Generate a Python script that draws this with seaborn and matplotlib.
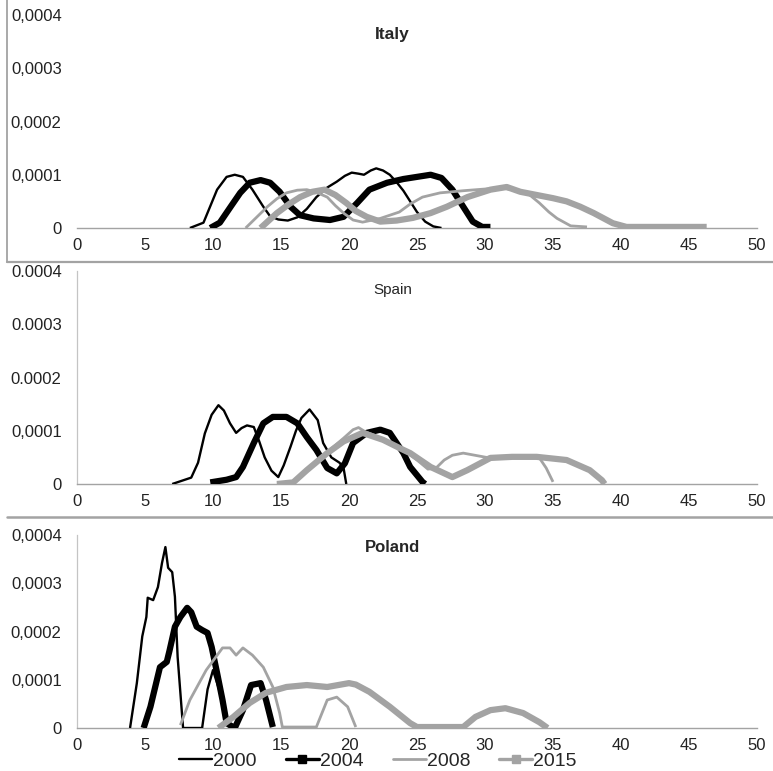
import numpy as np
import pandas as pd
import matplotlib
matplotlib.use("Agg")
import matplotlib.pyplot as plt
from matplotlib.lines import Line2D
import seaborn as sns

# y values are read in units of 0.0001
Y_UNIT = 1e-4

years = ["2000", "2004", "2008", "2015"]

# Italy
italy_2000_x = [8.3, 9.3, 10.3, 11.0, 11.6, 12.2, 12.9, 13.7, 14.2, 14.8, 15.5, 16.2, 16.9, 17.6, 18.4, 19.1,
                19.7, 20.2, 20.7, 21.1, 21.6, 22.0, 22.5, 23.0, 23.5, 24.0, 24.5, 25.0, 25.6, 26.2, 26.8]
italy_2000_y = [0, 0.1, 0.72, 0.96, 1.0, 0.96, 0.72, 0.4, 0.22, 0.16, 0.14, 0.2, 0.36, 0.58, 0.76, 0.87,
                0.98, 1.04, 1.02, 1.0, 1.08, 1.12, 1.08, 1.0, 0.86, 0.7, 0.5, 0.3, 0.12, 0.03, 0]
italy_2004_x = [9.8, 10.5, 11.3, 12.0, 12.7, 13.5, 14.2, 14.9, 15.7, 16.4, 17.4, 18.6, 19.6, 20.6, 21.5, 22.8,
                24.0, 25.0, 26.0, 26.8, 27.6, 28.4, 29.1, 29.8, 30.4]
italy_2004_y = [0, 0.1, 0.4, 0.66, 0.85, 0.9, 0.85, 0.68, 0.4, 0.24, 0.18, 0.15, 0.21, 0.47, 0.72, 0.85,
                0.92, 0.96, 1.0, 0.94, 0.72, 0.4, 0.12, 0.02, 0.02]
italy_2008_x = [12.4, 13.2, 14.0, 14.7, 15.4, 16.2, 16.9, 17.6, 18.4, 19.0, 19.6, 20.3, 21.0, 22.3, 23.7, 24.5,
                25.4, 26.7, 28.4, 30.4, 31.5, 32.4, 33.1, 34.0, 34.7, 35.3, 36.3, 37.5]
italy_2008_y = [0, 0.2, 0.4, 0.55, 0.66, 0.71, 0.72, 0.67, 0.58, 0.42, 0.28, 0.15, 0.11, 0.18, 0.3, 0.45,
                0.58, 0.66, 0.7, 0.74, 0.74, 0.7, 0.66, 0.47, 0.3, 0.18, 0.04, 0.02]
italy_2015_x = [13.5, 14.7, 15.6, 16.4, 17.3, 18.2, 19.0, 19.8, 20.5, 21.3, 22.3, 23.5, 24.7, 26.0, 27.2, 28.7,
                30.4, 31.6, 32.6, 33.8, 35.0, 36.0, 37.0, 38.0, 39.4, 40.4, 46.3]
italy_2015_y = [0, 0.28, 0.45, 0.58, 0.68, 0.72, 0.62, 0.47, 0.32, 0.21, 0.12, 0.14, 0.19, 0.28, 0.4, 0.58,
                0.72, 0.77, 0.68, 0.62, 0.56, 0.5, 0.4, 0.28, 0.09, 0.02, 0.02]

# Spain
spain_2000_x = [7.0, 8.4, 8.9, 9.4, 9.9, 10.4, 10.8, 11.25, 11.7, 12.1, 12.5, 13.0, 13.4, 13.8, 14.3, 14.8,
                15.2, 15.7, 16.1, 16.5, 17.1, 17.7, 18.1, 18.7, 19.3, 19.6, 19.8]
spain_2000_y = [0, 0.12, 0.4, 0.95, 1.3, 1.48, 1.38, 1.14, 0.96, 1.05, 1.1, 1.07, 0.8, 0.5, 0.25, 0.13,
                0.35, 0.7, 1.0, 1.24, 1.4, 1.2, 0.77, 0.5, 0.4, 0.3, 0]
spain_2004_x = [9.8, 11.0, 11.7, 12.2, 13.0, 13.7, 14.4, 15.4, 16.2, 16.9, 17.6, 18.4, 19.1, 19.7, 20.3, 21.3,
                22.3, 23.0, 24.0, 24.5, 25.4, 25.6]
spain_2004_y = [0.03, 0.08, 0.13, 0.32, 0.77, 1.14, 1.26, 1.26, 1.14, 0.88, 0.64, 0.3, 0.2, 0.39, 0.77, 0.96,
                1.02, 0.96, 0.58, 0.32, 0.04, 0]
spain_2008_x = [14.7, 15.9, 16.9, 18.4, 19.6, 20.3, 20.7, 21.2, 22.5, 24.0, 25.0, 25.8, 26.4, 27.0, 27.6, 28.4,
                30.1, 31.8, 34.0, 34.5, 35.0]
spain_2008_y = [0, 0.03, 0.26, 0.6, 0.86, 1.02, 1.06, 0.98, 0.85, 0.64, 0.45, 0.28, 0.3, 0.45, 0.54, 0.58,
                0.5, 0.52, 0.49, 0.3, 0.04]
spain_2015_x = [14.7, 15.9, 16.9, 18.4, 19.6, 21.0, 22.5, 24.0, 24.5, 26.0, 27.6, 28.7, 30.4, 32.0, 33.8, 36.0,
                37.7, 38.6, 38.8]
spain_2015_y = [0, 0.03, 0.26, 0.58, 0.8, 0.96, 0.83, 0.64, 0.58, 0.32, 0.13, 0.26, 0.49, 0.51, 0.51, 0.45,
                0.26, 0.07, 0]

# Poland
poland_2000_x = [3.9, 4.4, 4.8, 5.1, 5.2, 5.6, 5.95, 6.25, 6.5, 6.7, 7.0, 7.2, 7.4, 7.8, 9.2, 9.6, 10.0, 10.5,
                 11.0, 11.3]
poland_2000_y = [0, 0.93, 1.9, 2.3, 2.7, 2.65, 2.92, 3.42, 3.75, 3.32, 3.23, 2.72, 1.47, 0, 0, 0.8, 1.2, 0.75,
                 0.25, 0]
poland_2004_x = [4.9, 5.4, 5.75, 6.1, 6.6, 6.8, 7.2, 7.6, 8.1, 8.4, 8.8, 9.2, 9.6, 9.9, 10.3, 10.7, 11.0, 11.6,
                 12.2, 12.8, 13.5, 13.9, 14.4]
poland_2004_y = [0, 0.44, 0.85, 1.26, 1.37, 1.6, 2.1, 2.3, 2.49, 2.4, 2.1, 2.03, 1.97, 1.68, 1.14, 0.58, 0.1, 0,
                 0.37, 0.89, 0.93, 0.58, 0.02]
poland_2008_x = [7.6, 8.3, 9.5, 10.7, 11.25, 11.7, 12.2, 12.9, 13.7, 14.4, 14.9, 15.1, 17.6, 18.4, 19.1, 19.9,
                 20.5]
poland_2008_y = [0.06, 0.58, 1.2, 1.66, 1.66, 1.51, 1.66, 1.51, 1.26, 0.85, 0.31, 0.02, 0.02, 0.58, 0.64, 0.44,
                 0.02]
poland_2015_x = [10.4, 11.5, 12.7, 13.9, 15.4, 16.9, 18.4, 20.0, 20.5, 21.5, 23.0, 24.5, 25.0, 28.4, 29.3, 30.4,
                 31.5, 32.8, 34.0, 34.6]
poland_2015_y = [0, 0.23, 0.52, 0.73, 0.85, 0.89, 0.85, 0.93, 0.9, 0.75, 0.44, 0.1, 0.02, 0.02, 0.23, 0.37,
                 0.41, 0.31, 0.12, 0]

x_ticks = [0, 5, 10, 15, 20, 25, 30, 35, 40, 45, 50]
y_ticks = [0, 1, 2, 3, 4]
italy_ylabels = ["0", "0,0001", "0,0002", "0,0003", "0,0004"]
spain_ylabels = ["0", "0,0001", "0.0002", "0.0003", "0.0004"]
poland_ylabels = ["0", "0,0001", "0,0002", "0,0003", "0,0004"]

panels = [
    ("Italy", [(italy_2000_x, italy_2000_y), (italy_2004_x, italy_2004_y),
               (italy_2008_x, italy_2008_y), (italy_2015_x, italy_2015_y)], italy_ylabels),
    ("Spain", [(spain_2000_x, spain_2000_y), (spain_2004_x, spain_2004_y),
               (spain_2008_x, spain_2008_y), (spain_2015_x, spain_2015_y)], spain_ylabels),
    ("Poland", [(poland_2000_x, poland_2000_y), (poland_2004_x, poland_2004_y),
                (poland_2008_x, poland_2008_y), (poland_2015_x, poland_2015_y)], poland_ylabels),
]

GRAY = "#a3a3a3"
styles = {
    "2000": dict(color="black", lw=1.7),
    "2004": dict(color="black", lw=4.5),
    "2008": dict(color=GRAY, lw=2.0),
    "2015": dict(color=GRAY, lw=4.5),
}

sns.set_style("white")
plt.rcParams["font.family"] = ["Liberation Sans", "DejaVu Sans"]

W, H = 773, 771
fig = plt.figure(figsize=(W / 100, H / 100), dpi=100)

# axes boxes in pixels: (top of 0.0004, bottom at 0)
boxes = [(15, 228), (271, 484), (535, 728)]
left_px, right_px = 77, 757

title_pos = [(392, 34, 12.5, "bold"), (393, 290, 11, "normal"), (393, 547, 12, "bold")]

for i, (name, series, ylabels) in enumerate(panels):
    top, bot = boxes[i]
    ax = fig.add_axes([left_px / W, 1 - bot / H, (right_px - left_px) / W, (bot - top) / H])
    for yr, (xs, ys) in zip(years, series):
        df = pd.DataFrame({"x": xs, "y": np.array(ys) * Y_UNIT})
        sns.lineplot(data=df, x="x", y="y", ax=ax, sort=False, estimator=None,
                     color=styles[yr]["color"], linewidth=styles[yr]["lw"],
                     solid_joinstyle="round", solid_capstyle="butt", zorder=3)
    ax.set_xlim(0, 50)
    ax.set_ylim(0, 4 * Y_UNIT)
    ax.set_xticks(x_ticks)
    ax.set_xticklabels([str(t) for t in x_ticks])
    ax.set_yticks([t * Y_UNIT for t in y_ticks])
    ax.set_yticklabels(ylabels)
    ax.set_xlabel("")
    ax.set_ylabel("")
    for s in ["top", "right"]:
        ax.spines[s].set_visible(False)
    ax.spines["bottom"].set_color(GRAY)
    ax.spines["bottom"].set_linewidth(1.0)
    ax.spines["left"].set_color("#c4c4c4" if i else "#ffffff")
    ax.spines["left"].set_linewidth(0.9)
    ax.tick_params(axis="x", length=3, width=0.8, color=GRAY, pad=4, labelsize=12, labelcolor="#222222")
    ax.tick_params(axis="y", length=3, width=0.8, color="#c8c8c8", pad=8, labelsize=12, labelcolor="#222222")
    ax.patch.set_alpha(0)
    tx, ty, fs, fw = title_pos[i]
    fig.text(tx / W, 1 - ty / H, name, ha="center", va="center", fontsize=fs, fontweight=fw)

# panel frames from the original screenshot
fig.add_artist(Line2D([7 / W, 7 / W], [1, 1 - 262 / H], color=GRAY, lw=1.3, transform=fig.transFigure))
fig.add_artist(Line2D([7 / W, 1], [1 - 262 / H, 1 - 262 / H], color=GRAY, lw=1.6, transform=fig.transFigure))
fig.add_artist(Line2D([7 / W, 1], [1 - 517 / H, 1 - 517 / H], color=GRAY, lw=1.8, transform=fig.transFigure))

handles = [
    Line2D([], [], color="black", lw=1.7),
    Line2D([], [], color="black", lw=2.4, marker="s", markersize=5.5),
    Line2D([], [], color=GRAY, lw=2.0),
    Line2D([], [], color=GRAY, lw=2.4, marker="s", markersize=5.5),
]
fig.legend(handles, years, loc="center", bbox_to_anchor=(378 / W, 1 - 761 / H), ncol=4, frameon=False,
           fontsize=14, handlelength=1.7, handletextpad=0.05, columnspacing=1.5, borderpad=0)

fig.savefig("out.png", dpi=100)
